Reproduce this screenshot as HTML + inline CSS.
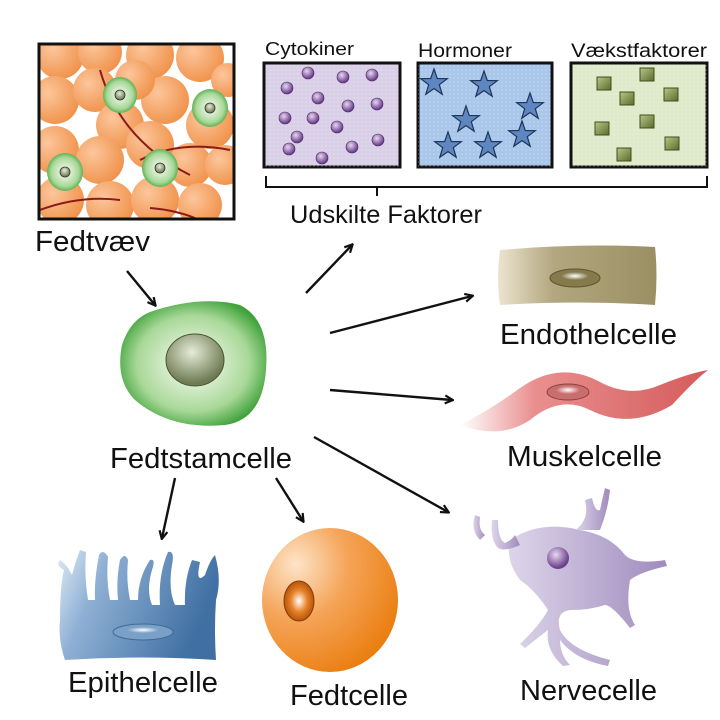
<!DOCTYPE html>
<html><head><meta charset="utf-8"><style>html,body{margin:0;padding:0;background:#fff}svg{display:block}text{font-family:"Liberation Sans",sans-serif;fill:#111}</style></head>
<body>
<svg width="720" height="720" viewBox="0 0 720 720" xmlns="http://www.w3.org/2000/svg">
<defs>
<radialGradient id="org" cx="0.35" cy="0.35" r="0.7"><stop offset="0" stop-color="#fcc69c"/><stop offset="1" stop-color="#f0924a"/></radialGradient>
<radialGradient id="grn" cx="0.5" cy="0.5" r="0.55"><stop offset="0.3" stop-color="#f4faf0"/><stop offset="1" stop-color="#4fb148"/></radialGradient>
<radialGradient id="grn2" cx="0.5" cy="0.5" r="0.55"><stop offset="0.2" stop-color="#e6f3de"/><stop offset="0.7" stop-color="#a8d898"/><stop offset="1" stop-color="#3fa23a"/></radialGradient>
<radialGradient id="nuc" cx="0.45" cy="0.35" r="0.6"><stop offset="0" stop-color="#e7ecd8"/><stop offset="1" stop-color="#6d7a52"/></radialGradient>
<radialGradient id="pur" cx="0.4" cy="0.35" r="0.6"><stop offset="0" stop-color="#e8d8f0"/><stop offset="1" stop-color="#6b3f8c"/></radialGradient>
<linearGradient id="sq" x1="0" y1="0" x2="1" y2="1"><stop offset="0" stop-color="#b9c78a"/><stop offset="1" stop-color="#5a6b2a"/></linearGradient>
<linearGradient id="endo" x1="0" y1="0" x2="1" y2="0"><stop offset="0" stop-color="#ece4cf"/><stop offset="0.35" stop-color="#b2a780"/><stop offset="1" stop-color="#9a8f63"/></linearGradient>
<linearGradient id="mus" x1="0" y1="0" x2="1" y2="0"><stop offset="0" stop-color="#fff"/><stop offset="0.3" stop-color="#e98f8f"/><stop offset="1" stop-color="#d55b5b"/></linearGradient>
<linearGradient id="epi" x1="0" y1="0" x2="1" y2="0.3"><stop offset="0" stop-color="#dfeaf6"/><stop offset="0.3" stop-color="#8fb0d4"/><stop offset="1" stop-color="#3f6fa3"/></linearGradient>
<radialGradient id="fat" cx="0.25" cy="0.25" r="0.85"><stop offset="0" stop-color="#fde4c9"/><stop offset="0.45" stop-color="#f5a458"/><stop offset="1" stop-color="#ea7d0e"/></radialGradient>
<radialGradient id="fatn" cx="0.5" cy="0.5" r="0.55"><stop offset="0" stop-color="#fff"/><stop offset="0.5" stop-color="#e8822a"/><stop offset="1" stop-color="#a94b05"/></radialGradient>
<linearGradient id="ner" x1="0" y1="0" x2="1" y2="0"><stop offset="0" stop-color="#ddd6ea"/><stop offset="1" stop-color="#a08bbd"/></linearGradient>
<radialGradient id="shine" cx="0.5" cy="0.5" r="0.5"><stop offset="0" stop-color="#fff"/><stop offset="1" stop-color="#fff" stop-opacity="0"/></radialGradient>
<marker id="ar" markerWidth="10" markerHeight="10" refX="8" refY="5" orient="auto" markerUnits="userSpaceOnUse"><path d="M1,1 L9,5 L1,9" fill="none" stroke="#111" stroke-width="2.2"/></marker>
<clipPath id="fc"><rect x="40" y="45" width="193" height="173"/></clipPath>
<pattern id="dots" width="4" height="4" patternUnits="userSpaceOnUse"><circle cx="2" cy="2" r="0.6" fill="#fff" opacity="0.5"/></pattern>
</defs>

<g clip-path="url(#fc)">
<rect x="40" y="45" width="193" height="173" fill="#fff"/>
<g fill="url(#org)">
<circle cx="60" cy="55" r="24"/><circle cx="100" cy="52" r="22"/><circle cx="150" cy="55" r="24"/><circle cx="200" cy="58" r="24"/><circle cx="228" cy="80" r="17"/>
<circle cx="55" cy="100" r="24"/><circle cx="95" cy="90" r="22"/><circle cx="120" cy="125" r="24"/><circle cx="165" cy="100" r="24"/><circle cx="210" cy="125" r="24"/>
<circle cx="55" cy="150" r="24"/><circle cx="100" cy="160" r="24"/><circle cx="150" cy="145" r="24"/><circle cx="190" cy="165" r="22"/><circle cx="225" cy="165" r="20"/>
<circle cx="60" cy="200" r="24"/><circle cx="110" cy="205" r="24"/><circle cx="155" cy="200" r="24"/><circle cx="200" cy="205" r="22"/><circle cx="135" cy="80" r="20"/>
</g>
<g fill="none" stroke="#8b1a1a" stroke-width="2">
<path d="M100,70 Q120,140 190,175"/><path d="M140,160 Q180,140 230,150"/><path d="M40,210 Q80,195 120,200"/><path d="M150,208 Q175,210 195,218"/>
</g>
<g><ellipse cx="120" cy="95" rx="17" ry="18" fill="url(#grn2)"/><circle cx="120" cy="95" r="5" fill="url(#nuc)" stroke="#333" stroke-width="0.8"/>
<ellipse cx="210" cy="108" rx="18" ry="19" fill="url(#grn2)"/><circle cx="210" cy="108" r="5" fill="url(#nuc)" stroke="#333" stroke-width="0.8"/>
<ellipse cx="65" cy="172" rx="18" ry="19" fill="url(#grn2)"/><circle cx="65" cy="172" r="5" fill="url(#nuc)" stroke="#333" stroke-width="0.8"/>
<ellipse cx="160" cy="168" rx="18" ry="19" fill="url(#grn2)"/><circle cx="160" cy="168" r="5" fill="url(#nuc)" stroke="#333" stroke-width="0.8"/></g>
</g>
<rect x="39" y="44" width="195" height="175" fill="none" stroke="#111" stroke-width="3"/>

<text x="265" y="55" font-size="18" textLength="89" lengthAdjust="spacingAndGlyphs">Cytokiner</text>
<text x="418" y="57" font-size="19" textLength="94" lengthAdjust="spacingAndGlyphs">Hormoner</text>
<text x="571" y="57" font-size="19" textLength="136" lengthAdjust="spacingAndGlyphs">Vækstfaktorer</text>
<rect x="264" y="63" width="136" height="104" fill="#d9cfe6" stroke="#111" stroke-width="3"/>
<rect x="264" y="63" width="136" height="104" fill="url(#dots)"/>
<rect x="418" y="63" width="134" height="104" fill="#a8c7ea" stroke="#111" stroke-width="3"/>
<rect x="418" y="63" width="134" height="104" fill="url(#dots)"/>
<rect x="571" y="63" width="136" height="104" fill="#dfeacb" stroke="#111" stroke-width="3"/>
<rect x="571" y="63" width="136" height="104" fill="url(#dots)"/>
<g fill="url(#pur)" stroke="#4b2a66" stroke-width="0.6">
<circle cx="308" cy="73" r="6"/><circle cx="343" cy="77" r="6"/><circle cx="372" cy="75" r="6"/><circle cx="287" cy="88" r="6"/><circle cx="318" cy="98" r="6"/><circle cx="348" cy="106" r="6"/><circle cx="377" cy="104" r="6"/><circle cx="285" cy="118" r="6"/><circle cx="313" cy="118" r="6"/><circle cx="337" cy="127" r="6"/><circle cx="297" cy="137" r="6"/><circle cx="378" cy="140" r="6"/><circle cx="352" cy="147" r="6"/><circle cx="289" cy="149" r="6"/><circle cx="322" cy="158" r="6"/>
</g>
<g fill="#5e86c0" stroke="#1f3558" stroke-width="1.2">
<path id="st" d="M0,-14 L3.3,-4.5 L13.3,-4.3 L5.3,1.7 L8.2,11.3 L0,5.6 L-8.2,11.3 L-5.3,1.7 L-13.3,-4.3 L-3.3,-4.5Z" transform="translate(434,83)"/>
<use href="#st" transform="translate(50,2)"/><use href="#st" transform="translate(96,24)"/><use href="#st" transform="translate(32,37)"/><use href="#st" transform="translate(88,52)"/><use href="#st" transform="translate(14,63)"/><use href="#st" transform="translate(54,63)"/>
</g>
<g fill="url(#sq)" stroke="#3f4d1c" stroke-width="1">
<rect x="640" y="68" width="14" height="13"/><rect x="597" y="77" width="14" height="13"/><rect x="620" y="92" width="14" height="13"/><rect x="664" y="88" width="14" height="13"/><rect x="640" y="115" width="14" height="13"/><rect x="595" y="122" width="14" height="13"/><rect x="665" y="137" width="14" height="13"/><rect x="617" y="148" width="14" height="13"/>
</g>
<path d="M266,176 V187 H707 V176 M377,187 V196" fill="none" stroke="#111" stroke-width="2"/>
<text x="290" y="223" font-size="25" textLength="192" lengthAdjust="spacingAndGlyphs">Udskilte Faktorer</text>

<text x="35" y="251" font-size="29" textLength="115" lengthAdjust="spacingAndGlyphs">Fedtvæv</text>

<g stroke="#111" stroke-width="2.4" marker-end="url(#ar)">
<line x1="127" y1="271" x2="155" y2="305"/>
<line x1="306" y1="293" x2="352" y2="245"/>
<line x1="330" y1="333" x2="472" y2="296"/>
<line x1="330" y1="390" x2="452" y2="400"/>
<line x1="314" y1="437" x2="448" y2="512"/>
<line x1="175" y1="478" x2="162" y2="538"/>
<line x1="276" y1="478" x2="303" y2="521"/>
</g>

<path d="M150,312 Q200,295 240,305 Q270,320 266,370 Q262,420 225,425 Q170,430 135,400 Q115,380 122,345 Q130,320 150,312Z" fill="url(#grn2)"/>
<ellipse cx="195" cy="360" rx="29" ry="26" fill="url(#nuc)" stroke="#4a5535" stroke-width="1"/>
<text x="110" y="468" font-size="29" textLength="182" lengthAdjust="spacingAndGlyphs">Fedtstamcelle</text>

<path d="M500,250 Q580,243 655,247 Q658,275 655,305 Q580,300 500,305 Q496,278 500,250Z" fill="url(#endo)"/>
<ellipse cx="575" cy="278" rx="25" ry="9" fill="#857a4c" stroke="#5f562f"/><ellipse cx="575" cy="276" rx="14" ry="4" fill="url(#shine)"/>
<text x="500" y="344" font-size="29" textLength="177" lengthAdjust="spacingAndGlyphs">Endothelcelle</text>

<path d="M460,425 Q490,410 520,388 Q560,360 600,382 Q630,398 660,385 Q690,373 708,370 Q695,380 672,405 Q630,430 590,410 Q560,395 530,420 Q500,440 460,425Z" fill="url(#mus)"/>
<ellipse cx="568" cy="392" rx="21" ry="8" fill="#c86e6e" stroke="#8e3f3f"/><ellipse cx="568" cy="390" rx="12" ry="4" fill="url(#shine)"/>
<text x="507" y="466" font-size="29" textLength="155" lengthAdjust="spacingAndGlyphs">Muskelcelle</text>

<g fill="url(#ner)">
<path d="M510,540 Q540,520 580,530 Q610,535 625,555 Q635,565 665,560 L667,566 Q640,572 630,580 Q625,610 635,625 L630,628 Q612,605 605,605 Q590,610 570,610 Q555,612 560,630 Q570,650 610,660 L608,666 Q575,660 560,640 Q560,655 570,665 L563,666 Q545,650 548,630 Q535,640 525,648 L520,644 Q540,625 548,610 Q535,590 520,580 Q505,560 510,540Z"/>
<path d="M520,545 Q505,552 498,548 Q490,540 492,520 L498,520 Q498,540 505,543 Q512,540 515,535Z"/>
<path d="M575,530 Q590,520 585,500 L592,498 Q595,512 600,510 Q602,500 605,488 L610,490 Q608,510 600,530Z"/>
<path d="M480,540 Q470,530 475,515 L480,517 Q478,530 485,535Z"/>
</g>
<circle cx="558" cy="558" r="11" fill="url(#pur)"/>
<text x="520" y="700" font-size="29" textLength="137" lengthAdjust="spacingAndGlyphs">Nervecelle</text>

<path d="M60,620 Q60,585 64,570 Q55,565 60,560 Q68,566 72,575 Q76,560 80,550 L86,552 Q84,575 88,600 L95,600 Q94,580 99,555 Q103,548 108,557 Q106,580 110,600 L118,600 Q116,580 120,560 Q125,552 128,560 Q126,580 130,600 L138,600 Q138,578 150,560 Q156,558 152,570 Q146,590 152,605 L160,605 Q158,575 168,552 Q175,550 172,565 Q168,590 175,605 L185,605 Q184,580 192,560 L200,562 Q195,585 205,575 Q210,560 215,555 Q222,580 216,600 Q214,630 216,660 Q140,655 65,660 Q58,640 60,620Z" fill="url(#epi)"/>
<ellipse cx="143" cy="632" rx="30" ry="8" fill="#7aa0c8" stroke="#3f6a95"/><ellipse cx="143" cy="630" rx="16" ry="3" fill="url(#shine)"/>
<text x="68" y="692" font-size="29" textLength="150" lengthAdjust="spacingAndGlyphs">Epithelcelle</text>

<ellipse cx="330" cy="600" rx="68" ry="72" fill="url(#fat)"/>
<ellipse cx="299" cy="601" rx="15" ry="20" fill="url(#fatn)" stroke="#8a3c00" stroke-width="1"/>
<text x="290" y="705" font-size="29" textLength="118" lengthAdjust="spacingAndGlyphs">Fedtcelle</text>
</svg>
</body></html>
